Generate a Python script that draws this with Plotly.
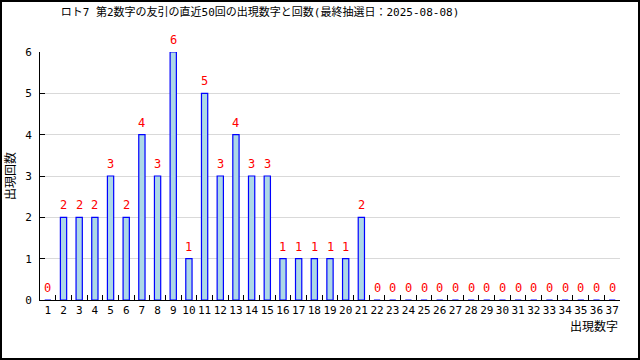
import plotly.graph_objects as go

numbers = [str(i) for i in range(1, 38)]
counts = [0, 2, 2, 2, 3, 2, 4, 3, 6, 1, 5, 3, 4, 3, 3, 1, 1, 1, 1, 1, 2,
          0, 0, 0, 0, 0, 0, 0, 0, 0, 0, 0, 0, 0, 0, 0, 0]
title = "ロト7 第2数字の友引の直近50回の出現数字と回数(最終抽選日：2025-08-08)"

FONT = "DejaVu Sans Mono, Noto Sans CJK JP"
fig = go.Figure()
fig.add_trace(go.Bar(
    x=numbers, y=counts, width=0.4,
    marker=dict(color="#add8e6", line=dict(color="#0000ff", width=1.2)),
    hoverinfo="skip",
))

L, R, T, B = 40, 20, 52, 60
PW, PH = 640 - L - R, 360 - T - B

labels = [dict(x=i, y=c, text=str(c), xref="x", yref="y", showarrow=False,
               xanchor="center", yanchor="bottom", yshift=3,
               font=dict(color="#ff0000", size=12, family=FONT))
          for i, c in enumerate(counts)]

fig.update_layout(
    width=640, height=360,
    margin=dict(l=L, r=R, t=T, b=B, autoexpand=False),
    paper_bgcolor="white", plot_bgcolor="white",
    showlegend=False,
    font=dict(family=FONT, size=11, color="#000"),
    title=dict(text=title, x=260/640, xanchor="center", y=1 - 12/360, yanchor="middle",
               font=dict(size=11, family=FONT, color="#000")),
    xaxis=dict(type="category", range=[-0.5, 36.5], showline=True, linecolor="#000",
               linewidth=1, ticks="inside", ticklen=5, tickcolor="#000",
               tickson="boundaries", showgrid=False, tickfont=dict(size=11),
               tickangle=0, zeroline=False),
    yaxis=dict(range=[0, 6], dtick=1, showline=True, linecolor="#000", linewidth=1,
               ticks="inside", ticklen=5, tickcolor="#000", showgrid=True,
               gridcolor="#d9d9d9", gridwidth=1, zeroline=False,
               tickfont=dict(size=11), ticklabelstandoff=5),
    annotations=labels + [
        dict(text="出現数字", xref="paper", yref="paper", x=1, y=-17/PH,
             xanchor="right", yanchor="top", showarrow=False,
             font=dict(size=12, family=FONT, color="#000")),
        dict(text="出現回数", xref="paper", yref="paper", x=-30/PW, y=0.5,
             textangle=-90, xanchor="center", yanchor="middle", showarrow=False,
             font=dict(size=12, family=FONT, color="#000")),
    ],
    shapes=[dict(type="rect", xref="paper", yref="paper",
                 x0=(-L + 1)/PW, x1=(640 - L - 1)/PW,
                 y0=(-B + 1)/PH, y1=(PH + T - 1)/PH,
                 line=dict(color="#000", width=2), layer="above")],
)
fig.write_html("out.html", config={"displayModeBar": False},
               post_script="document.body.style.margin='0';")
